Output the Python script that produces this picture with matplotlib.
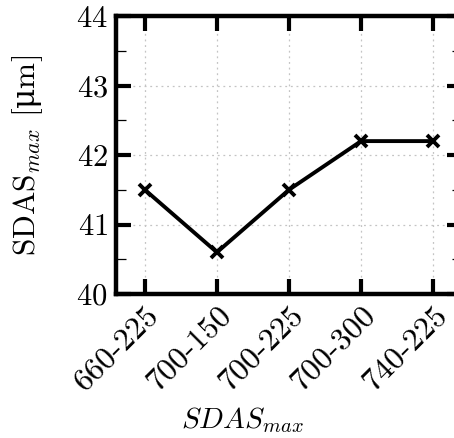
import numpy as np
import matplotlib
matplotlib.use("Agg")
import matplotlib.pyplot as plt
from matplotlib.ticker import MultipleLocator

# data
cases = ['660-225', '700-150', '700-225', '700-300', '740-225']
sdas_max = [41.5, 40.6, 41.5, 42.2, 42.2]

plt.rcParams['font.family'] = ['cmr10', 'DejaVu Serif']
plt.rcParams['mathtext.fontset'] = 'custom'
plt.rcParams['mathtext.rm'] = 'DejaVu Serif'
plt.rcParams['mathtext.it'] = 'cmmi10'
plt.rcParams['axes.formatter.use_mathtext'] = True

fig = plt.figure(figsize=(4.54, 4.38), dpi=100)
# right edge of the frame sits just outside the picture
ax = fig.add_axes([116/454, 144/438, 346/454, 278/438])

x = np.arange(len(cases))
ax.plot(x, sdas_max, color='black', lw=2.8, marker='x', ms=9, mew=2.8)

ax.set_xlim(-0.4, len(cases) - 0.6)
ax.set_ylim(40, 44)
ax.set_xticks(x)
ax.set_xticklabels(cases, rotation=45, ha='right', va='top', rotation_mode='anchor')
ax.yaxis.set_major_locator(MultipleLocator(1))
ax.yaxis.set_minor_locator(MultipleLocator(0.5))

ax.grid(True, which='major', color='#c4c4c4', ls=(0, (1.5, 3)), lw=0.9)
ax.tick_params(which='major', direction='in', length=11, width=3,
               top=True, right=True, labelsize=22, pad=6)
ax.tick_params(axis='x', which='major', labelsize=23, pad=5)
ax.tick_params(which='minor', direction='in', length=7.5, width=0.9, right=True)
for s in ax.spines.values():
    s.set_linewidth(3.2)
ax.spines['right'].set_visible(False)

ax.set_ylabel(r'SDAS$_{max}$ [$\mathrm{\mu}$m]', fontsize=22.5)
ax.yaxis.set_label_coords(-0.205, 0.5)
fig.text(243/454, 0.04, r'$SDAS_{max}$', fontsize=21, ha='center', va='center')

plt.savefig('out.png', dpi=100)
